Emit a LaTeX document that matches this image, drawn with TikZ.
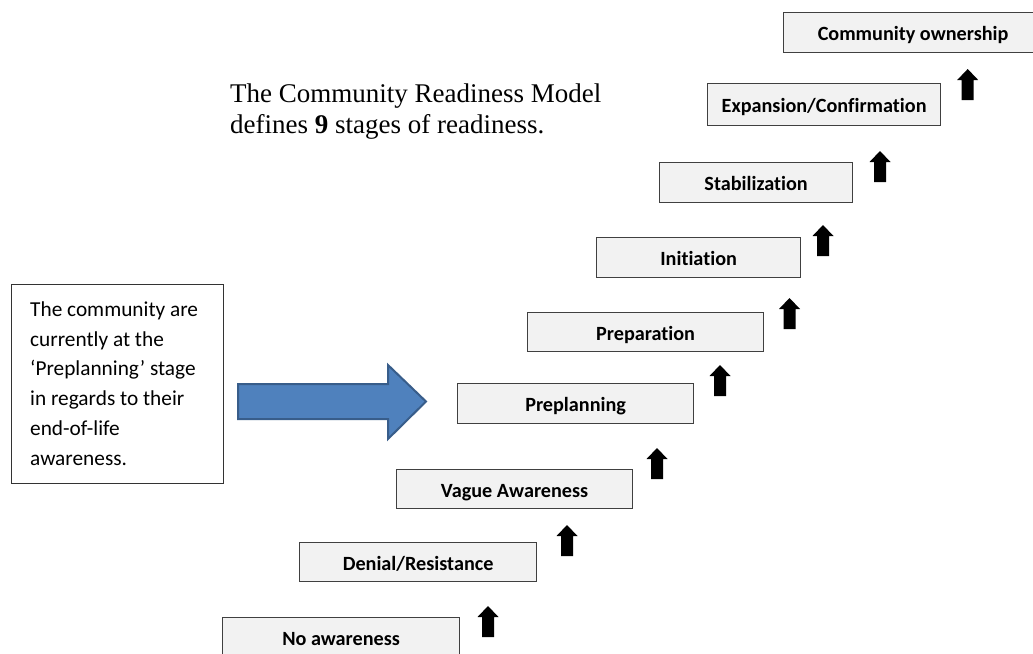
\documentclass[tikz,border=0pt]{standalone}
\usepackage{fontspec}
\setmainfont{Liberation Serif}
\newfontfamily\calibri[Ligatures=CommonOff]{Carlito}
\definecolor{boxfill}{RGB}{242,242,242}
\definecolor{boxline}{RGB}{64,64,64}
\definecolor{pointerfill}{RGB}{79,129,189}
\definecolor{pointerline}{RGB}{56,93,138}
\begin{document}
\begin{tikzpicture}[x=1pt,y=-1pt,
  stage/.style={draw=boxline, fill=boxfill, line width=1.2pt, inner sep=0pt,
    text height=16pt, text depth=0pt,
    anchor=north west, font=\calibri\bfseries\fontsize{20.2}{24}\selectfont},
  notebox/.style={draw=black!80, line width=1.2pt, inner sep=0pt, anchor=north west},
  notetext/.style={anchor=north west, align=left, inner sep=0pt,
    font=\calibri\fontsize{21.3}{29.8}\selectfont},
  titletext/.style={anchor=north west, align=left, inner sep=0pt,
    font=\fontsize{27}{31}\selectfont},
  pointer/.style={fill=pointerfill, draw=pointerline, line width=2pt, line join=miter},
  uparrow/.pic={\fill[black] (0,0) -- (10.5,11) -- (6,11) -- (6,31) -- (-6,31)
      -- (-6,11) -- (-10.5,11) -- cycle;}
]
\useasboundingbox (0,0) rectangle (1033,653);
\clip (0,0) rectangle (1033,653);

% heading
\node[titletext] (title) at (230,83.5)
  {The Community Readiness Model\\defines \textbf{9} stages of readiness.};

% the nine stages, climbing to the upper right
\node[stage, minimum width=237, minimum height=40] (s1) at (222,617) {No awareness};
\node[stage, minimum width=237, minimum height=39] (s2) at (299,542) {Denial/Resistance};
\node[stage, minimum width=236, minimum height=39] (s3) at (396,469) {Vague Awareness};
\node[stage, minimum width=236, minimum height=40] (s4) at (457,383) {Preplanning};
\node[stage, minimum width=236, minimum height=39] (s5) at (527,312) {Preparation};
\node[stage, minimum width=204, minimum height=40] (s6) at (596,237) {Initiation};
\node[stage, minimum width=193, minimum height=40] (s7) at (659,162) {Stabilization};
\node[stage, minimum width=233, minimum height=42] (s8) at (707,83) {Expansion/Confirmation};
\node[stage, minimum width=259, minimum height=40] (s9) at (783,12) {Community ownership};

% small upward arrows beside each step
\pic at (488,606) {uparrow};
\pic at (567,525) {uparrow};
\pic at (657,448) {uparrow};
\pic at (720,365) {uparrow};
\pic at (789.5,298) {uparrow};
\pic at (823,225) {uparrow};
\pic at (880,151) {uparrow};
\pic at (967.7,69) {uparrow};

% note box on the left
\node[notebox, minimum width=212, minimum height=199] (note) at (11,284) {};
\node[notetext] (notebody) at (30,301.3)
  {The community are\\currently at the\\‘Preplanning’ stage\\in regards to their\\end-of-life\\awareness.};

% block arrow pointing at the current stage
\draw[pointer] (238,384) -- (388,384) -- (388,365) -- (426,401.5)
  -- (388,439) -- (388,419) -- (238,419) -- cycle;
\end{tikzpicture}
\end{document}
